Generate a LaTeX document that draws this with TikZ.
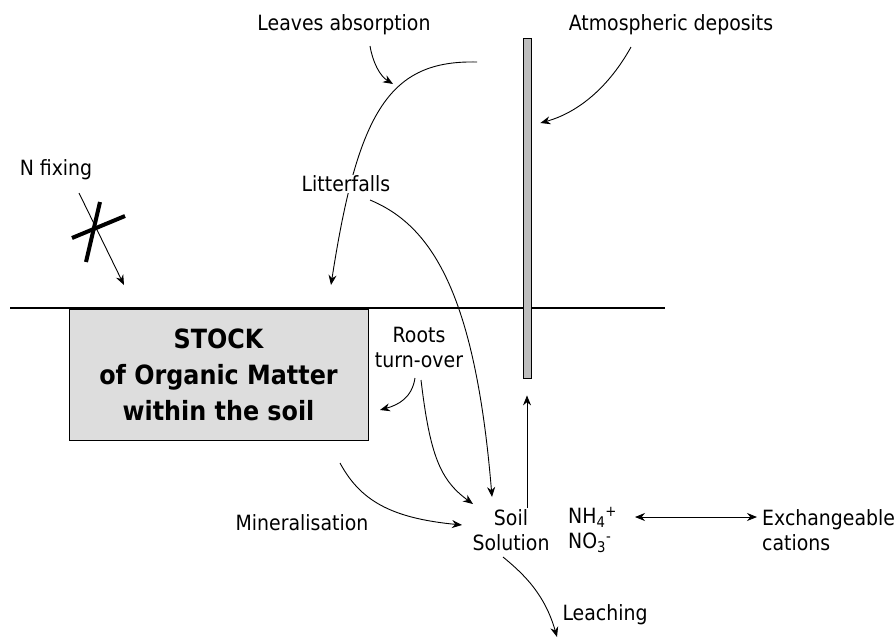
\documentclass[tikz,border=0pt]{standalone}
\usepackage{fontspec}
\setmainfont{DejaVu Sans}[FakeStretch=0.9]
\usepackage{tikz}
\usetikzlibrary{arrows.meta,positioning,calc,backgrounds}

\definecolor{stockgray}{HTML}{DDDDDD}
\definecolor{bargray}{HTML}{BDBDBD}

\begin{document}
\begin{tikzpicture}[
    x=1pt, y=-1pt,
    label/.style={inner sep=1pt, font=\fontsize{21}{25}\selectfont, align=center},
    flow/.style={-{Stealth[length=10pt,width=8pt]}, line width=0.9pt},
    stock/.style={rectangle, draw, line width=1pt, fill=stockgray, minimum width=299pt, minimum height=131pt, align=center, font=\fontsize{26.5}{36}\selectfont\bfseries},
    bar/.style={rectangle, draw, line width=0.8pt, fill=bargray, minimum width=8pt, minimum height=340pt, inner sep=0pt}
]
    \useasboundingbox (0,0) rectangle (895,638);

    % ground surface
    \draw[line width=1.2pt] (10,308) -- (665,308);

    \node[stock] (stock) at (218.5,374.5) {STOCK\\of Organic Matter\\within the soil};
    \node[bar] (bar) at (527,208) {};

    \node[label] (leaves) at (344,25) {Leaves absorption};
    \node[label] (atmo) at (671,25) {Atmospheric deposits};
    \node[label] (nfix) at (56,170) {N fixing};
    \node[label, fill=white] (litter) at (346,184) {Litterfalls};
    \node[label] (roots) at (419,347) {Roots\\turn-over};
    \node[label] (miner) at (302,523) {Mineralisation};
    \node[label] (soil) at (511,530) {Soil\\Solution};
    \node[label, align=left, anchor=west] (ions) at (567,530) {NH\textsubscript{4}\textsuperscript{+}\\NO\textsubscript{3}\textsuperscript{-}};
    \node[label, align=left, anchor=west] (exch) at (761,530) {Exchangeable\\cations};
    \node[label] (leach) at (605,615) {Leaching};

    % loose ends of the fluxes
    \coordinate (atmo-out) at (631,47);
    \coordinate (leaf-out) at (370,46);
    \coordinate (leaf-in) at (393,84);
    \coordinate (canopy) at (477,62);
    \coordinate (litter-in) at (331,285);
    \coordinate (litter-out) at (370,200);
    \coordinate (nfix-out) at (79,193);
    \coordinate (nfix-in) at (124,285);
    \coordinate (roots-out1) at (415,378);
    \coordinate (roots-out2) at (421,380);
    \coordinate (stock-in) at (380,410);
    \coordinate (miner-out) at (340,463);
    \coordinate (soil-in1) at (492,497);
    \coordinate (soil-in2) at (473,504);
    \coordinate (soil-in3) at (462,525);
    \coordinate (leach-out) at (503,557);
    \coordinate (leach-in) at (557,637);
    \coordinate (ion-left) at (635,517);
    \coordinate (ion-right) at (757,517);

    % inputs from above
    \draw[flow] (atmo-out) .. controls (610,85) and (580,112) .. ($(bar.east)+(9,-85)$);
    \draw[flow] (leaf-out) .. controls (373,63) and (380,76) .. (leaf-in);
    \begin{scope}[on background layer]
        \draw[flow] (canopy) .. controls (390,60) and (358,110) .. (litter-in);
    \end{scope}
    \draw[flow] (litter-out) .. controls (430,225) and (475,290) .. (soil-in1);

    % N fixing, crossed out
    \draw[flow] (nfix-out) -- (nfix-in);
    \draw[line width=4pt] (72,238) -- (125,216);
    \draw[line width=4pt] (100,202) -- (86,262);

    % fluxes in the soil
    \draw[flow] (roots-out1) .. controls (412,398) and (398,405) .. (stock-in);
    \draw[flow] (roots-out2) .. controls (430,455) and (440,480) .. (soil-in2);
    \draw[flow] (miner-out) .. controls (360,500) and (390,518) .. (soil-in3);
    \draw[flow] (soil.north -| bar.south) -- ([yshift=-17pt]bar.south);
    \draw[{Stealth[length=10pt,width=8pt]}-{Stealth[length=10pt,width=8pt]}, line width=0.9pt]
        (ion-left) -- (ion-right);
    \draw[flow] (leach-out) .. controls (525,575) and (545,595) .. (leach-in);
\end{tikzpicture}
\end{document}
